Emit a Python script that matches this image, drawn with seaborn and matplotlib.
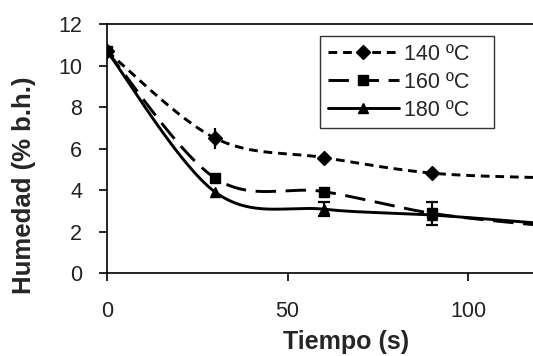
import matplotlib
matplotlib.use("Agg")
import matplotlib.pyplot as plt
from matplotlib.lines import Line2D
import numpy as np
import seaborn as sns

# datos
tiempo = [0, 30, 60, 90, 120]
hum_140 = [10.7, 6.5, 5.57, 4.82, 4.6]
hum_160 = [10.7, 4.57, 3.93, 2.88, 2.3]
hum_180 = [10.7, 3.9, 3.08, 2.8, 2.4]
err_140 = [0, 0.52, 0, 0, 0]
err_160 = [0, 0, 0, 0.55, 0]
err_180 = [0, 0, 0.34, 0, 0]
etiquetas = ["140 ºC", "160 ºC", "180 ºC"]


def suavizar(x, y, n=40):
    """Curva tipo Excel (Bezier con tangentes de Catmull-Rom)."""
    x = np.asarray(x, float)
    y = np.asarray(y, float)
    px = np.concatenate([[x[0]], x, [x[-1]]])
    py = np.concatenate([[y[0]], y, [y[-1]]])
    xs, ys = [], []
    t = np.linspace(0, 1, n)
    for i in range(1, len(px) - 2):
        p0 = np.array([px[i], py[i]])
        p3 = np.array([px[i + 1], py[i + 1]])
        p1 = p0 + (np.array([px[i + 1], py[i + 1]]) - np.array([px[i - 1], py[i - 1]])) / 6
        p2 = p3 - (np.array([px[i + 2], py[i + 2]]) - np.array([px[i], py[i]])) / 6
        b = ((1 - t) ** 3)[:, None] * p0 + (3 * (1 - t) ** 2 * t)[:, None] * p1 \
            + (3 * (1 - t) * t ** 2)[:, None] * p2 + (t ** 3)[:, None] * p3
        xs.extend(b[:, 0])
        ys.extend(b[:, 1])
    return np.array(xs), np.array(ys)


sns.set_style("ticks")
plt.rcParams["font.family"] = ["Liberation Sans", "DejaVu Sans"]

fig = plt.figure(figsize=(5.33, 3.56), dpi=100)
ax = fig.add_axes([0.2008, 0.2331, 0.7992, 0.6986])

series = [
    (hum_140, err_140, "D", 7.5, (0, (3.0, 2.0))),
    (hum_160, err_160, "s", 6.5, (0, (7.0, 3.3))),
    (hum_180, err_180, "^", 6.5, "-"),
]
lw = 2.1
handles = []
for (vals, errs, mk, ms, ls), lab in zip(series, etiquetas):
    sx, sy = suavizar(tiempo, vals)
    sns.lineplot(x=sx, y=sy, ax=ax, color="black", linewidth=lw, linestyle=ls,
                 sort=False, estimator=None)
    ax.plot(tiempo, vals, linestyle="none", marker=mk, markersize=ms, color="black")
    e = np.asarray(errs)
    m = e > 0
    ax.errorbar(np.asarray(tiempo)[m], np.asarray(vals)[m], yerr=e[m], fmt="none",
                ecolor="black", elinewidth=1.6, capsize=4 if mk != "D" else 0, capthick=1.6)
    handles.append(Line2D([0], [0], color="black", linewidth=lw, linestyle=ls,
                          marker=mk, markersize=ms))

ax.set_xlim(0, 118)
ax.set_ylim(0, 12)
ax.set_xticks([0, 50, 100])
ax.set_yticks(range(0, 13, 2))
ax.spines["right"].set_visible(False)
for s in ["left", "bottom", "top"]:
    ax.spines[s].set_linewidth(1.2)
    ax.spines[s].set_color("black")
ax.tick_params(axis="both", direction="out", length=6, width=1.2, color="black",
               labelsize=15.5, labelcolor="#222222")
ax.tick_params(axis="y", pad=12)
ax.tick_params(axis="x", pad=14)

ax.set_xlabel("Tiempo (s)", fontsize=18, fontweight="bold", va="baseline")
ax.set_ylabel("Humedad (% b.h.)", fontsize=18.5, fontweight="bold", va="center")
ax.xaxis.set_label_coords(0.561, -0.3056)
ax.yaxis.set_label_coords(-0.195, 0.354)

leg = ax.legend(handles, etiquetas, loc="upper left",
                bbox_to_anchor=(0.5, 0.5, 0.4085, 0.453), mode="expand",
                fontsize=15.5, frameon=True, fancybox=False, handlelength=3.3,
                handletextpad=0.25, borderpad=0.35, labelspacing=0.33, borderaxespad=0)
leg.get_frame().set_edgecolor("black")
leg.get_frame().set_linewidth(1.0)

fig.savefig("out.png", dpi=100)
plt.close(fig)
